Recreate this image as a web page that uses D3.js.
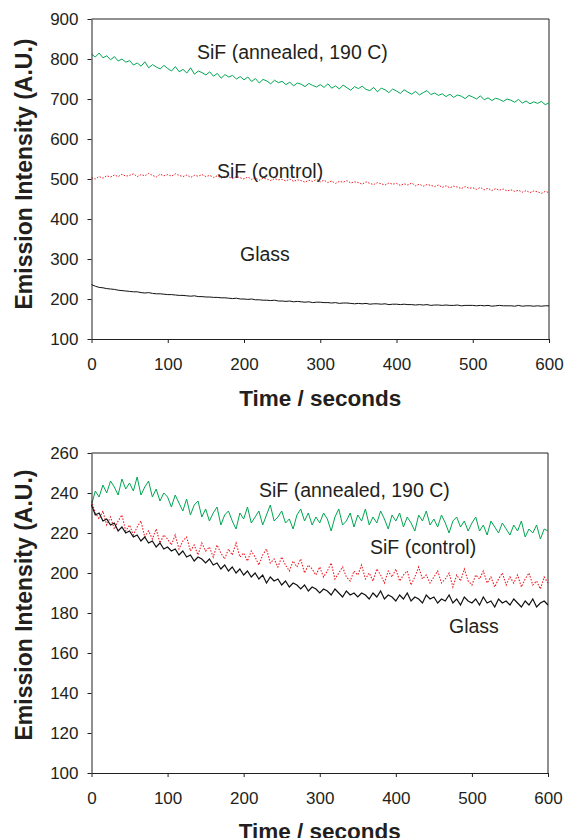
<!DOCTYPE html>
<html>
<head>
<meta charset="utf-8">
<script src="https://cdn.jsdelivr.net/npm/d3@7"></script>
<style>
  body { margin: 0; background: #fff; }
  svg { display: block; font-family: "Liberation Sans", Arial, sans-serif; }
</style>
</head>
<body>
<svg id="chart"></svg>
<script>
// sampling grid, seconds
var times = d3.range(0, 601, 5);

// top panel
var topAnnealed = [
  812, 805, 815, 803, 808, 798, 806, 795, 800, 792,
  796, 785, 790, 782, 793, 778, 786, 780, 775, 784,
  776, 770, 781, 768, 774, 765, 778, 762, 770, 766,
  760, 768, 757, 764, 752, 761, 755, 759, 750, 756,
  748, 755, 744, 751, 740, 749, 745, 738, 747, 741,
  744, 736, 742, 733, 740, 737, 731, 739, 734, 730,
  736, 729, 738, 727, 733, 725, 735, 728, 722, 731,
  726, 732, 724, 721, 729, 718, 727, 723, 716, 725,
  720, 714, 723, 717, 712, 719, 710, 716, 721, 711,
  715, 709, 713, 706, 712, 704, 710, 707, 701, 709,
  705, 700, 708, 698, 703, 696, 702, 699, 694, 700,
  697, 692, 699, 690, 695, 688, 693, 689, 694, 686,
  690];
var topControl = [
  503, 500, 506, 502, 508, 505, 510, 506, 512, 507,
  509, 513, 506, 511, 508, 514, 509, 505, 512, 508,
  511, 507, 513, 509, 506, 510, 504, 509, 507, 511,
  506, 509, 504, 508, 502, 507, 505, 501, 506, 503,
  500, 505, 499, 503, 497, 502, 500, 496, 501, 498,
  499, 495, 500, 494, 498, 496, 492, 497, 494, 499,
  493, 497, 491, 495, 489, 494, 492, 496, 490, 493,
  491, 487, 493, 489, 486, 491, 488, 485, 490, 487,
  489, 484, 488, 485, 490, 483, 487, 482, 486, 484,
  481, 485, 479, 483, 478, 482, 480, 476, 481, 477,
  478, 474, 479, 473, 477, 471, 476, 472, 475, 470,
  473, 469, 472, 467, 471, 466, 470, 468, 464, 469,
  466];
var topGlass = [
  236, 232, 229, 228, 226, 225, 224, 222, 221, 220,
  219, 218, 218, 216, 215, 216, 214, 213, 213, 212,
  211, 211, 210, 209, 209, 208, 207, 208, 206, 206,
  205, 205, 204, 204, 203, 203, 202, 201, 202, 200,
  200, 199, 200, 198, 198, 197, 197, 196, 197, 195,
  195, 194, 195, 193, 194, 193, 192, 193, 191, 192,
  192, 191, 191, 190, 191, 189, 190, 190, 189, 188,
  189, 188, 189, 187, 188, 188, 187, 188, 186, 187,
  187, 186, 187, 186, 186, 185, 186, 185, 186, 184,
  185, 185, 184, 185, 184, 184, 185, 183, 184, 184,
  184, 183, 184, 183, 184, 182, 183, 184, 183, 183,
  183, 182, 184, 182, 183, 183, 182, 183, 182, 183,
  183];

// bottom panel
var botAnnealed = [
  234, 241, 238, 244, 240, 246, 243, 239, 247, 242,
  245, 241, 248, 239, 243, 246, 238, 242, 236, 240,
  238, 233, 239, 235, 231, 237, 229, 234, 236, 228,
  232, 226, 230, 233, 224, 229, 231, 226, 222, 230,
  227, 233, 225, 228, 231, 224, 229, 234, 226, 228,
  231, 225, 227, 222, 229, 232, 226, 230, 224, 228,
  225, 230, 227, 221, 228, 232, 224, 226, 230, 223,
  229, 226, 232, 224, 228, 225, 231, 227, 222, 229,
  226, 230, 223, 228, 225, 221, 229, 226, 231, 224,
  227, 223, 229, 225, 220, 226, 228, 223, 226, 221,
  225, 228, 221, 224, 219, 226, 223, 220, 225, 222,
  219, 224, 221, 226, 218, 222, 220, 224, 217, 222,
  221];
var botControl = [
  236, 230, 227, 231, 224, 228, 222, 226, 229, 221,
  224, 219, 223, 226, 218, 221, 217, 222, 215, 219,
  217, 214, 219, 212, 216, 218, 211, 214, 209, 215,
  211, 213, 208, 214, 210, 207, 212, 209, 215, 208,
  210, 206, 211, 208, 204, 209, 212, 205, 207, 203,
  208, 204, 201, 206, 203, 207, 200, 204, 202, 199,
  203, 198, 201, 205, 197, 200, 203, 198, 196, 201,
  199, 204, 197, 200, 196, 202, 199, 195, 201, 198,
  202, 196, 199, 201, 194, 198, 203, 197, 199, 195,
  198, 201, 195, 197, 200, 193, 199, 196, 202, 196,
  194, 199, 197, 201, 195, 198, 193, 197, 200, 194,
  198, 195, 199, 193, 197, 200, 194, 196, 192, 198,
  195];
var botGlass = [
  234, 229, 230, 226, 227, 224, 225, 221, 223, 220,
  221, 218, 219, 216, 218, 215, 216, 213, 215, 212,
  213, 211, 212, 209, 211, 208, 209, 206, 208, 207,
  205, 207, 204, 205, 202, 204, 201, 203, 200, 202,
  199, 201, 198, 200, 197, 199, 195, 198, 196, 197,
  194, 196, 193, 195, 194, 192, 194, 191, 193, 192,
  190, 192, 191, 189, 192, 190, 188, 191, 189, 190,
  188, 190, 189, 187, 190, 188, 191, 187, 189, 188,
  186, 189, 187, 190, 186, 188, 187, 185, 189, 187,
  188, 185, 187, 186, 189, 185, 187, 184, 188, 186,
  185, 187, 184, 188, 185, 186, 183, 187, 185, 186,
  184, 187, 185, 183, 186, 184, 187, 183, 185, 186,
  184];

var xTicks = [0, 100, 200, 300, 400, 500, 600];
var topYTicks = [100, 200, 300, 400, 500, 600, 700, 800, 900];
var botYTicks = [100, 120, 140, 160, 180, 200, 220, 240, 260];

const width = 565;
const height = 838;
const ink = '#231f20';

const svg = d3.select('#chart')
    .attr('width', width)
    .attr('height', height);

function drawPanel(p) {
    const x = d3.scaleLinear().domain([0, 600]).range([p.left, p.right]);
    const y = d3.scaleLinear().domain(p.yDomain).range([p.bottom, p.top]);

    const g = svg.append('g');

    // frame (top and right edges)
    g.append('path')
        .attr('d', `M${p.left},${p.top}H${p.right}V${p.bottom}`)
        .attr('fill', 'none')
        .attr('stroke', ink)
        .attr('stroke-width', 1);

    const line = d3.line()
        .x((d, i) => x(times[i]))
        .y(d => y(d));

    p.series.forEach(s => {
        g.append('path')
            .datum(s.values)
            .attr('d', line)
            .attr('fill', 'none')
            .attr('stroke', s.color)
            .attr('stroke-width', s.w)
            .attr('stroke-dasharray', s.dash || null);
    });

    const xAxis = g.append('g')
        .attr('transform', `translate(0,${p.bottom})`)
        .call(d3.axisBottom(x).tickValues(xTicks).tickSize(4).tickSizeOuter(0).tickPadding(15));
    const yAxis = g.append('g')
        .attr('transform', `translate(${p.left},0)`)
        .call(d3.axisLeft(y).tickValues(p.yTicks).tickSize(4).tickSizeOuter(0).tickPadding(9));

    [xAxis, yAxis].forEach(a => {
        a.select('.domain').attr('stroke', ink);
        a.selectAll('.tick line').attr('stroke', ink);
        a.selectAll('.tick text')
            .attr('fill', ink)
            .style('font-size', '17px')
            .style('font-family', '"Liberation Sans", Arial, sans-serif');
    });

    g.append('text')
        .attr('x', (p.left + p.right) / 2)
        .attr('y', p.xTitleY)
        .attr('text-anchor', 'middle')
        .attr('fill', ink)
        .style('font-size', '22.5px')
        .style('font-weight', 'bold')
        .text('Time / seconds');

    g.append('text')
        .attr('transform', `translate(${32},${p.yTitleY}) rotate(-90)`)
        .attr('text-anchor', 'middle')
        .attr('fill', ink)
        .style('font-size', '23px')
        .style('font-weight', 'bold')
        .text('Emission Intensity (A.U.)');

    p.labels.forEach(l => {
        g.append('text')
            .attr('x', l.x)
            .attr('y', l.y)
            .attr('fill', ink)
            .style('font-size', '19.5px')
            .text(l.text);
    });
}

drawPanel({
    left: 91.5, right: 549, top: 19, bottom: 339,
    yDomain: [100, 900], yTicks: topYTicks,
    xTitleY: 406, yTitleY: 174,
    series: [
        { values: topAnnealed, color: '#00a651', w: 1 },
        { values: topControl, color: '#ee1c24', w: 1, dash: '1.5,1.5' },
        { values: topGlass, color: '#111', w: 1 }
    ],
    labels: [
        { text: 'SiF (annealed, 190 C)', x: 197, y: 59 },
        { text: 'SiF (control)', x: 217, y: 178 },
        { text: 'Glass', x: 240, y: 261 }
    ]
});

drawPanel({
    left: 91.5, right: 548, top: 453, bottom: 773,
    yDomain: [100, 260], yTicks: botYTicks,
    xTitleY: 839, yTitleY: 605,
    series: [
        { values: botAnnealed, color: '#00a651', w: 1 },
        { values: botControl, color: '#ee1c24', w: 1.1, dash: '1.5,1.5' },
        { values: botGlass, color: '#111', w: 1.2 }
    ],
    labels: [
        { text: 'SiF (annealed, 190 C)', x: 259, y: 497 },
        { text: 'SiF (control)', x: 370, y: 554 },
        { text: 'Glass', x: 449, y: 633 }
    ]
});
</script>
</body>
</html>
